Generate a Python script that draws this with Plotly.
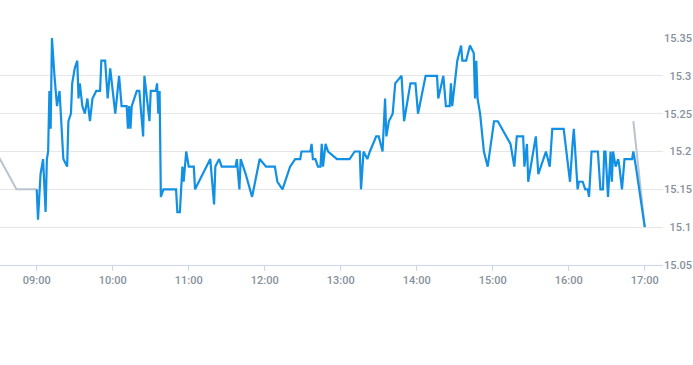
import plotly.graph_objects as go

DAY = "2024-03-15 "

# Main (blue) series: time of day and price
blue_times = [
    "09:00", "09:01", "09:03", "09:05", "09:07", "09:08", "09:09", "09:10", "09:11", "09:12",
    "09:14", "09:16", "09:18", "09:21", "09:24", "09:25", "09:27", "09:28", "09:30", "09:32",
    "09:33", "09:34", "09:36", "09:38", "09:40", "09:42", "09:44", "09:47", "09:50", "09:51",
    "09:54", "09:56", "09:58", "10:00", "10:02", "10:05", "10:07", "10:11", "10:12", "10:13",
    "10:14", "10:15", "10:17", "10:19", "10:21", "10:24", "10:25", "10:29", "10:30", "10:34",
    "10:35", "10:36", "10:37", "10:38", "10:40", "10:50", "10:51", "10:53", "10:55", "10:56",
    "10:58", "11:00", "11:04", "11:05", "11:17", "11:20", "11:21", "11:24", "11:26", "11:37",
    "11:38", "11:40", "11:41", "11:45", "11:50", "11:56", "12:01", "12:08", "12:10", "12:14",
    "12:20", "12:24", "12:28", "12:29", "12:36", "12:37", "12:38", "12:40", "12:42", "12:44",
    "12:45", "12:46", "12:48", "12:50", "12:57", "13:07", "13:11", "13:15", "13:16", "13:18",
    "13:21", "13:23", "13:28", "13:30", "13:33", "13:35", "13:36", "13:38", "13:41", "13:43",
    "13:48", "13:50", "13:55", "13:59", "14:01", "14:07", "14:16", "14:17", "14:21", "14:23",
    "14:26", "14:27", "14:28", "14:32", "14:35", "14:36", "14:39", "14:42", "14:45", "14:46",
    "14:47", "14:48", "14:49", "14:50", "14:53", "14:56", "15:01", "15:04", "15:14", "15:17",
    "15:19", "15:24", "15:25", "15:27", "15:28", "15:34", "15:36", "15:42", "15:45", "15:47",
    "15:56", "16:01", "16:03", "16:04", "16:07", "16:08", "16:11", "16:13", "16:15", "16:16",
    "16:18", "16:23", "16:25", "16:27", "16:28", "16:29", "16:31", "16:33", "16:34", "16:35",
    "16:36", "16:37", "16:39", "16:40", "16:42", "16:44", "16:50", "16:51", "16:53", "17:00",
]
blue_values = [
    15.15, 15.11, 15.17, 15.19, 15.12, 15.19, 15.20, 15.28, 15.23, 15.35,
    15.30, 15.26, 15.28, 15.19, 15.18, 15.24, 15.25, 15.29, 15.31, 15.32,
    15.27, 15.29, 15.26, 15.25, 15.27, 15.24, 15.27, 15.28, 15.28, 15.32,
    15.32, 15.27, 15.31, 15.28, 15.25, 15.30, 15.26, 15.26, 15.23, 15.26,
    15.23, 15.26, 15.27, 15.28, 15.28, 15.22, 15.30, 15.24, 15.28, 15.28,
    15.29, 15.25, 15.28, 15.14, 15.15, 15.15, 15.12, 15.12, 15.18, 15.16,
    15.20, 15.18, 15.18, 15.15, 15.19, 15.13, 15.18, 15.19, 15.18, 15.18,
    15.19, 15.15, 15.19, 15.17, 15.14, 15.19, 15.18, 15.18, 15.16, 15.15,
    15.18, 15.19, 15.19, 15.20, 15.20, 15.21, 15.19, 15.19, 15.18, 15.18,
    15.21, 15.18, 15.21, 15.20, 15.19, 15.19, 15.20, 15.20, 15.15, 15.20,
    15.19, 15.20, 15.22, 15.22, 15.20, 15.27, 15.22, 15.24, 15.25, 15.29,
    15.30, 15.24, 15.29, 15.29, 15.25, 15.30, 15.30, 15.27, 15.30, 15.26,
    15.26, 15.29, 15.26, 15.32, 15.34, 15.32, 15.32, 15.34, 15.33, 15.27,
    15.32, 15.27, 15.26, 15.25, 15.20, 15.18, 15.24, 15.24, 15.21, 15.18,
    15.22, 15.22, 15.18, 15.21, 15.16, 15.22, 15.17, 15.20, 15.18, 15.23,
    15.23, 15.16, 15.21, 15.23, 15.15, 15.16, 15.16, 15.15, 15.15, 15.14,
    15.20, 15.20, 15.15, 15.15, 15.20, 15.20, 15.14, 15.20, 15.16, 15.20,
    15.19, 15.18, 15.19, 15.18, 15.15, 15.19, 15.19, 15.20, 15.18, 15.10,
]

# Secondary (grey) series, with a gap during the session
grey_times = ["08:30", "08:44", "09:00", "12:00", "16:51", "17:00"]
grey_values = [15.193, 15.15, 15.15, None, 15.24, 15.10]

# Axis ticks
y_ticks = [15.05, 15.1, 15.15, 15.2, 15.25, 15.3, 15.35]
y_tick_labels = ["15.05", "\u00a0\u00a015.1", "15.15", "\u00a0\u00a015.2", "15.25", "\u00a0\u00a015.3", "15.35"]
x_start, x_end = "08:31:00", "17:14:24"

font_family = "Roboto, Arial, sans-serif"
label_color = "#87919c"
tick_font = dict(family=font_family, size=11, color=label_color, weight=500)

fig = go.Figure()
fig.add_trace(go.Scatter(
    x=[DAY + t for t in grey_times], y=grey_values, mode="lines",
    line=dict(color="#b9c4ce", width=2), connectgaps=False, hoverinfo="skip",
))
fig.add_trace(go.Scatter(
    x=[DAY + t for t in blue_times], y=blue_values, mode="lines",
    line=dict(color="#1290e4", width=2.2), hoverinfo="skip",
))

fig.update_layout(
    width=693, height=365,
    margin=dict(l=0, r=30, t=38, b=100),
    paper_bgcolor="white", plot_bgcolor="white",
    showlegend=False,
    font=dict(family=font_family, size=11, color=label_color),
    xaxis=dict(
        type="date", automargin=False,
        range=[DAY + x_start, DAY + x_end],
        tick0=DAY + "09:00", dtick=3600000, tickformat="%H:%M",
        showgrid=False, zeroline=False,
        showline=True, linecolor="#ccd6eb", linewidth=1,
        ticks="outside", ticklen=5, tickcolor="#ccd6eb", tickwidth=1,
        tickfont=tick_font,
    ),
    yaxis=dict(
        side="right", automargin=False,
        range=[15.05, 15.35],
        tickvals=y_ticks, ticktext=y_tick_labels,
        showgrid=True, gridcolor="#e6e6e6", gridwidth=1,
        zeroline=False, showline=False, ticks="",
        tickfont=tick_font,
    ),
)

fig.write_html("out.html")
